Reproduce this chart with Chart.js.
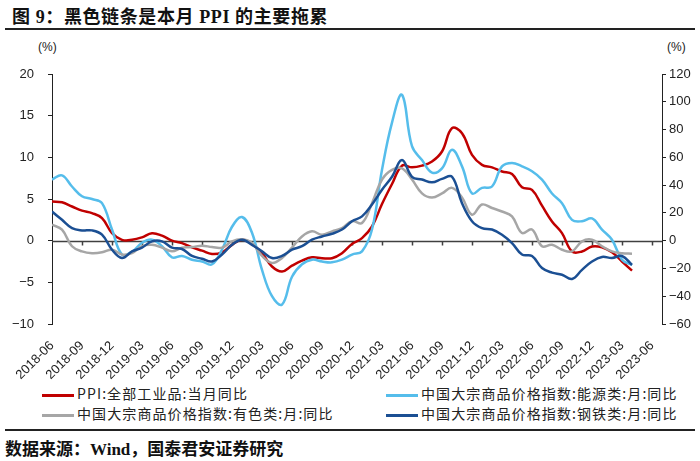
<!DOCTYPE html>
<html>
<head>
<meta charset="utf-8">
<script src="https://cdn.jsdelivr.net/npm/chart.js@4.4.0/dist/chart.umd.min.js"></script>
<style>
  body { margin: 0; width: 700px; height: 461px; position: relative; background: #fff; overflow: hidden; }
  .abs { position: absolute; white-space: nowrap; }
  #title { left: 12px; top: 2px; font: bold 18px "Liberation Serif", "Noto Sans CJK SC"; letter-spacing: 0.6px; color: #111; }
  .rule { position: absolute; left: 5px; width: 690px; height: 2px; background: #222; }
  .unit { font: 12px "Liberation Sans", "Noto Sans CJK SC"; color: #222; top: 40px; }
  .leg { font: 14px "Noto Sans CJK SC"; letter-spacing: 1.1px; color: #222; height: 18px; line-height: 18px; }
  .leg i { display: inline-block; width: 32px; height: 3px; vertical-align: middle; margin-right: 3px; }
  #src { left: 5px; top: 435px; font: bold 17px "Liberation Serif", "Noto Sans CJK SC"; color: #111; }
  #wrap { position: absolute; left: 0; top: 0; width: 700px; height: 380px; }
</style>
</head>
<body>
<div id="title" class="abs">图 9：黑色链条是本月 PPI 的主要拖累</div>
<div class="rule" style="top:28px"></div>
<div class="abs unit" style="left:38px">(%)</div>
<div class="abs unit" style="left:667px">(%)</div>
<div id="wrap"><canvas id="chart" width="700" height="380"></canvas></div>
<div id="legend"></div>
<div class="rule" style="top:429px"></div>
<div id="src" class="abs">数据来源：Wind，国泰君安证券研究</div>
<script>
// monthly, 2018-06 .. 2023-04
var ppi = [4.7, 4.6, 4.1, 3.6, 3.3, 2.7, 0.9,
  0.1, 0.1, 0.4, 0.9, 0.6, 0.0, -0.3, -0.8, -1.2, -1.6, -1.4, -0.5,
  0.1, -0.4, -1.5, -3.1, -3.7, -3.0, -2.4, -2.0, -2.1, -2.1, -1.5, -0.4,
  0.3, 1.7, 4.4, 6.8, 9.0, 8.8, 9.0, 9.5, 10.7, 13.5, 12.9, 10.3,
  9.1, 8.8, 8.3, 8.0, 6.4, 6.1, 4.2, 2.3, 0.9, -1.3, -1.3, -0.7,
  -0.8, -1.4, -2.5, -3.6];
var energy = [44, 47, 39, 32, 30, 27, 8, -10, -8, -1.5, 0.7, -4, -12, -11, -13.7, -15, -17, -6.5, 10, 17,
  5.7, -21, -40, -46, -26, -17, -13.7, -15, -15.6, -13.7, -10, -7.7, 8, 51, 85, 105, 68, 58, 49, 52,
  65.5, 53.5, 34, 38, 39, 53.5, 56, 53.5, 50, 44, 34, 27, 15, 14, 16, 8, 0.7, -13.7, -17.5];
var nonferrous = [11.5, 8, -4, -7.7, -9, -8.4, -6.5, -10, -9, -4, -3, -5, -7.7, -5, -4.6, -3.6, -4.6, -5, -0.5, 1,
  -1.7, -11, -16, -12.5, -5, 3, 6.7, 4.3, 6.7, 9, 14, 12.7, 27, 44, 51, 52, 44, 34, 31, 34,
  38, 31, 18.7, 26, 23.5, 21, 17.5, 5.5, 8, -4, -3, -6.5, -7.7, -0.5, 0.7, -4, -7.7, -9, -9.4];
var steel = [21, 15, 9, 7.4, 7.4, 4.3, -6.5, -12.5, -7.7, -5, -0.5, -0.5, -5, -6, -11, -13, -15, -10, -3, 0.7,
  -3, -7.7, -12.5, -11, -6.5, -4, 0.7, 3, 5, 8, 14, 17.5, 26, 36.7, 46, 58, 46, 44, 42, 44.5,
  46, 27, 14, 9, 8, 4.3, -1.7, -10, -11, -19.7, -23, -24.5, -27.6, -21, -15, -11.7, -12.5, -11, -17.5];

var xTickLabels = ['2018-06', '2018-09', '2018-12', '2019-03', '2019-06', '2019-09', '2019-12',
  '2020-03', '2020-06', '2020-09', '2020-12', '2021-03', '2021-06', '2021-09', '2021-12',
  '2022-03', '2022-06', '2022-09', '2022-12', '2023-03', '2023-06'];

var seriesNames = ['PPI:全部工业品:当月同比', '中国大宗商品价格指数:能源类:月:同比',
  '中国大宗商品价格指数:有色类:月:同比', '中国大宗商品价格指数:钢铁类:月:同比'];
var seriesColors = ['#C00000', '#55BDEB', '#A6A6A6', '#1B4F93'];

function toPoints(arr) {
  return arr.map(function (v, i) { return { x: i, y: v }; });
}

function minus(v) {
  return String(v).replace('-', '\u2212');
}

var zeroLine = {
  id: 'zeroLine',
  beforeDatasetsDraw: function (chart) {
    var ctx = chart.ctx;
    var area = chart.chartArea;
    var xs = chart.scales.x;
    var y0 = Math.round(chart.scales.yL.getPixelForValue(0)) + 0.5;
    ctx.save();
    ctx.strokeStyle = '#404040';
    ctx.lineWidth = 1.5;
    ctx.beginPath();
    ctx.moveTo(area.left, y0);
    ctx.lineTo(area.right, y0);
    for (var i = 1; i < xTickLabels.length; i++) {
      var px = Math.round(xs.getPixelForValue(i * 3)) + 0.5;
      ctx.moveTo(px, y0);
      ctx.lineTo(px, y0 + 4);
    }
    ctx.stroke();
    ctx.restore();
  }
};

var datasets = [ppi, energy, nonferrous, steel].map(function (arr, i) {
  return {
    label: seriesNames[i],
    data: toPoints(arr),
    borderColor: seriesColors[i],
    borderWidth: 2.5,
    pointRadius: 0,
    tension: 0.4,
    fill: false,
    yAxisID: i === 0 ? 'yL' : 'yR',
    order: 4 - i
  };
});

var tickFont = { family: '"Liberation Sans", Arial', size: 13 };

var chart = new Chart(document.getElementById('chart').getContext('2d'), {
  type: 'line',
  data: { datasets: datasets },
  options: {
    responsive: false,
    animation: false,
    devicePixelRatio: 1,
    layout: { padding: { top: 74, left: 0, right: 0, bottom: 0 } },
    plugins: { legend: { display: false }, tooltip: { enabled: false } },
    scales: {
      x: {
        type: 'linear',
        min: 0,
        max: 61,
        grid: { display: false },
        border: { display: false },
        ticks: {
          autoSkip: false,
          maxRotation: 45,
          minRotation: 45,
          padding: 6,
          color: '#222',
          font: tickFont,
          callback: function (v, i) { return xTickLabels[i]; }
        },
        afterBuildTicks: function (s) {
          s.ticks = xTickLabels.map(function (l, i) { return { value: i * 3 }; });
        },
        afterFit: function (s) { s.height = 56; }
      },
      yL: {
        position: 'left',
        min: -10,
        max: 20,
        grid: { drawOnChartArea: false, drawTicks: true, tickLength: 4, color: '#222' },
        border: { color: '#222', width: 1 },
        ticks: { stepSize: 5, padding: 14, color: '#222', font: tickFont, callback: minus },
        afterFit: function (s) { s.width = 52; }
      },
      yR: {
        position: 'right',
        min: -60,
        max: 120,
        grid: { drawOnChartArea: false, drawTicks: true, tickLength: 4, color: '#222' },
        border: { color: '#222', width: 1 },
        ticks: { stepSize: 20, padding: 3, color: '#222', font: tickFont, callback: minus },
        afterFit: function (s) { s.width = 38; }
      }
    }
  },
  plugins: [zeroLine]
});

// legend, two columns
var legendPos = [[42, 384], [386, 384], [42, 404], [386, 404]];
var legend = document.getElementById('legend');
seriesNames.forEach(function (name, i) {
  var item = document.createElement('div');
  item.className = 'abs leg';
  item.style.left = legendPos[i][0] + 'px';
  item.style.top = legendPos[i][1] + 'px';
  item.innerHTML = '<i style="background:' + seriesColors[i] + '"></i>' + name;
  legend.appendChild(item);
});
</script>
</body>
</html>
